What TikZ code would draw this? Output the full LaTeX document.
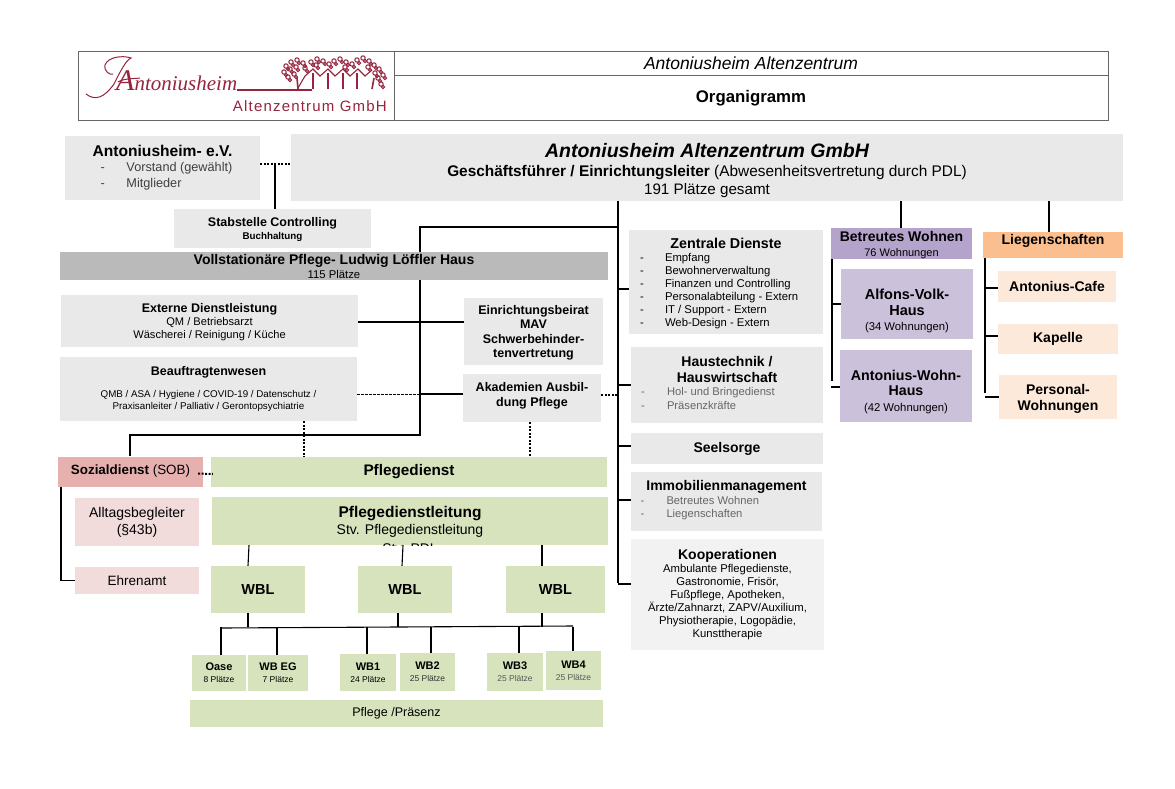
\documentclass[tikz,border=0pt]{standalone}
\usepackage{fontspec}
\setmainfont{Liberation Sans}
\newfontfamily\logoserif{Liberation Serif}
\setlength{\parindent}{0pt}
\newcommand{\fs}[2]{\fontsize{#1}{#2}\selectfont}
\newcommand{\dashitem}[3]{\hspace*{#1pt}\makebox[#2pt][l]{-}#3\par}
\definecolor{logored}{HTML}{96243F}
\definecolor{boxgrey}{HTML}{E9E9E9}
\definecolor{boxgreen}{HTML}{D6E3BC}
\definecolor{boxrose}{HTML}{F2DBDB}
\definecolor{boxred}{HTML}{E6B0AE}
\definecolor{boxpeach}{HTML}{FDE9D9}
\definecolor{boxorange}{HTML}{FBBF8F}
\definecolor{boxlila}{HTML}{CCC1DA}
\definecolor{boxviolet}{HTML}{B4A3CB}
\tikzset{
  orgbox/.style={rectangle, inner sep=0, align=center},
  wh/.style 2 args={minimum width=#1, minimum height=#2},
  pitch/.style={font=\fs{10}{#1}},
  greybox/.style={orgbox, fill=boxgrey},
  listtext/.style={orgbox, align=flush left, text width=178},
  greenbox/.style={orgbox, fill=boxgreen},
  rosebox/.style={orgbox, fill=boxrose},
  peachbox/.style={orgbox, fill=boxpeach, font=\fs{14}{15.5}\bfseries},
  lilabox/.style={orgbox, fill=boxlila},
  link/.style={black, line width=1.1pt},
  dotlink/.style={black, line width=2pt, dash pattern=on 2pt off 1.5pt},
  dashlink/.style={black, line width=.9pt, dash pattern=on 3pt off 1pt},
  frameline/.style={black!60, line width=.9pt}
}
\begin{document}
\begin{tikzpicture}[x=1pt, y=-1pt]
  \useasboundingbox (0,0) rectangle (1175,788);

  \draw [frameline] (78,51) rectangle (1108,120);
  \coordinate (headcut) at (394,75);
  \draw [frameline] (headcut |- 0,51) -- (headcut |- 0,120);
  \draw [frameline] (headcut) -- (1108,75);
  \node (headtop) at (751,63) {\fs{17.5}{19}\itshape Antoniusheim Altenzentrum};
  \node (headsub) at (751,98) {\fs{16.8}{18}\bfseries Organigramm};

  \node [logored, anchor=base west, inner sep=0] (logoword) at (116,90) {\logoserif\itshape\fs{30}{32}A\fs{21}{23}ntoniusheim};
  \node [logored, anchor=east, inner sep=0] (logosub) at (387,106) {\addfontfeatures{LetterSpace=8}\fs{15}{17}Altenzentrum GmbH};
  \draw [logored, line width=1pt] (86,94) .. controls (95,101) and (104,98) .. (114,84) .. controls (120,72) and (126,60) .. (131,58)
    .. controls (122,55) and (108,57) .. (105,65) .. controls (104,72) and (110,75) .. (113,74);
  \draw [logored, line width=1pt] (118,82) .. controls (125,78) and (132,79) .. (140,78);
  \draw [logored, line width=1.2pt] (logoword.base east) -- (312,90);
  \draw [logored, line width=1.1pt] (298,88) -- (305,76) -- (313,69) -- (320,76) -- (328,69) -- (335,76) -- (343,69) -- (350,76) -- (358,69) -- (365,76) -- (372,70);
  \foreach \x in {313,328,343,357} {
    \draw [logored, line width=1.1pt] (\x,73) -- (\x,89);
  }
  \foreach \x/\y in {286/66,291/62,297/60,303/63,284/72,290/69,296/67,288/77,294/74,305/68,
    311/62,317/59,323/61,329/64,334/61,340/59,346/62,352/64,357/60,363/58,369/61,
    374/65,379/69,383/75,378/78,381/84,375/73,368/67,316/65,345/67} {
    \draw [logored, line width=1pt] (\x,\y) circle (2.2);
    \draw [logored, line width=1pt] (\x+2,\y+3) circle (1.6);
  }
  \draw [logored, line width=1.6pt] (298,89) -- (297,78) (372,89) -- (374,78);

  \node [greybox, align=flush left, wh={195}{64}, text width=180] (verein) at (162.5,167.5) {{\centering\fs{15.6}{18}\bfseries Antoniusheim- e.V.\par}
    \fs{12.7}{15.5}\color{black!75}\dashitem{28}{26}{Vorstand (gewählt)}\dashitem{28}{26}{Mitglieder}};
  \node [greybox, wh={832}{67}] (main) at (707,167.5) {};
  \node [orgbox, pitch=17.5] (maintext) at (707,170.5) {\fs{19.5}{21}\bfseries\itshape Antoniusheim Altenzentrum GmbH\\[2pt]
    \fs{15.4}{18}\textbf{Geschäftsführer / Einrichtungsleiter} (Abwesenheitsvertretung durch PDL)\\ \fs{15.2}{17}191 Plätze gesamt};
  \node [greybox, wh={197}{39}] (stab) at (272.5,228.5) {};
  \node [orgbox, pitch=13] (stabtext) at (272.5,230) {\fs{12.5}{14}\bfseries Stabstelle Controlling\\ \fs{9.8}{11}\bfseries Buchhaltung};
  \node [orgbox, fill=black!27, wh={548}{28}, pitch=14] (voll) at (334,266) {\fs{14}{15}\bfseries Vollstationäre Pflege- Ludwig Löffler Haus\\ \fs{11.3}{11}115 Plätze};
  \node [greybox, wh={297}{52}] (extern) at (209.5,321) {};
  \node [orgbox, pitch=13] (externtext) at (209.5,322.5) {\fs{12.5}{14}\bfseries Externe Dienstleistung\\ \fs{11.1}{13}QM / Betriebsarzt\\ \fs{11.1}{13}Wäscherei / Reinigung / Küche};
  \node [greybox, wh={297}{64}, pitch=12.5] (beauf) at (208.5,389) {\fs{12.5}{14}\bfseries Beauftragtenwesen\\[9pt] \fs{9.8}{12.5}QMB / ASA / Hygiene / COVID-19 / Datenschutz /\\ \fs{9.8}{12.5}Praxisanleiter / Palliativ / Gerontopsychiatrie};
  \node [greybox, wh={139}{67}] (beirat) at (533.5,331.5) {};
  \node [orgbox, pitch=14.5] (beirattext) at (533.5,333) {\fs{12.5}{15.5}\bfseries Einrichtungsbeirat\\ \fs{12.5}{15.5}\bfseries MAV\\ \fs{12.5}{15.5}\bfseries Schwerbehinder-\\ \fs{12.5}{15.5}\bfseries tenvertretung};
  \node [greybox, wh={138}{48}] (akad) at (532,398) {};
  \node [orgbox, pitch=15] (akadtext) at (532,395.5) {\fs{12.5}{15.5}\bfseries Akademien Ausbil-\\ \fs{12.5}{15.5}\bfseries dung Pflege};

  \node [orgbox, fill=boxred, wh={145}{30}] (sozial) at (130.5,471.5) {\fs{13.4}{15}\textbf{Sozialdienst} (SOB)};
  \node [greenbox, wh={396}{30}] (pflege) at (409,472) {\fs{15.3}{17}\bfseries Pflegedienst};
  \node [rosebox, wh={124}{48}, pitch=17] (alltag) at (137,522) {\fs{14}{17}Alltagsbegleiter\\ \fs{14}{17}(§43b)};
  \node [rosebox, wh={124}{27}] (ehren) at (137,580.5) {\fs{13.5}{15}Ehrenamt};
  \node [greenbox, wh={396}{48}] (pdl) at (410,521) {};
  \begin{scope}
    \clip (pdl.south west) rectangle (pdl.north east);
    \node [orgbox, pitch=17] (pdltext) at (410,530) {\fs{15.5}{17}\bfseries Pflegedienstleitung\\ \fs{14}{17}Stv. Pflegedienstleitung\\[1.5pt] \fs{14}{17}Stv. PDL};
  \end{scope}
  \foreach \n/\x/\w in {wbla/258/94, wblb/405/94, wblc/555.5/99} {
    \node [greenbox, wh={\w}{47}] (\n) at (\x,589.5) {\fs{14.5}{16}\bfseries WBL};
  }
  \foreach \n/\t/\s/\x/\y/\w/\h/\c in {oase/Oase/8/219/673/54/36/black, wbeg/WB EG/7/278/673/60/36/black,
    wbeins/WB1/24/368/672.5/56/37/black, wbzwei/WB2/25/427.5/672/55/38/black!80,
    wbdrei/WB3/25/515/672/56/38/black!65, wbvier/WB4/25/573.5/670.5/55/39/black!65} {
    \node [greenbox, wh={\w}{\h}, pitch=12] (\n) at (\x,\y) {\fs{11}{13}\bfseries \t\\ \fs{8.5}{11}\color{\c}\s{} Plätze};
  }
  \node [greenbox, wh={413}{27}] (praesenz) at (396.5,713.5) {\fs{12.5}{14}Pflege /Präsenz};

  \node [greybox, wh={194}{104}] (zentral) at (726,282) {};
  \node [listtext] (zentraltext) at (726,283.5) {{\centering\fs{14.3}{16}\bfseries Zentrale Dienste\par}
    \fs{11.3}{12.9}\dashitem{3}{25}{Empfang}\dashitem{3}{25}{Bewohnerverwaltung}\dashitem{3}{25}{Finanzen und Controlling}\dashitem{3}{25}{Personalabteilung - Extern}\dashitem{3}{25}{IT / Support - Extern}\dashitem{3}{25}{Web-Design - Extern}};
  \node [greybox, wh={192}{76}] (haus) at (727,385) {};
  \node [listtext] (haustext) at (727,382.5) {{\centering\fs{14}{16}\bfseries Haustechnik /\\ Hauswirtschaft\par}
    \fs{11.2}{13.5}\color{black!60}\dashitem{3}{26}{Hol- und Bringedienst}\dashitem{3}{26}{Präsenzkräfte}};
  \node [greybox, wh={192}{31}] (seel) at (727,448.5) {\fs{14}{16}\bfseries Seelsorge};
  \node [greybox, wh={191}{59}] (immo) at (726.5,501.5) {};
  \node [listtext] (immotext) at (726.5,500.5) {{\centering\fs{14}{16}\bfseries Immobilienmanagement\par}
    \fs{11.2}{13.5}\color{black!60}\dashitem{3}{26}{Betreutes Wohnen}\dashitem{3}{26}{Liegenschaften}};
  \node [orgbox, fill=black!5, wh={193}{111}, pitch=13] (koop) at (727.5,594.5) {\fs{14}{16}\bfseries Kooperationen\\ \fs{11.3}{13}Ambulante Pflegedienste,\\ \fs{11.3}{13}Gastronomie, Frisör,\\ \fs{11.3}{13}Fußpflege, Apotheken,\\ \fs{11.3}{13}Ärzte/Zahnarzt, ZAPV/Auxilium,\\ \fs{11.3}{13}Physiotherapie, Logopädie,\\ \fs{11.3}{13}Kunsttherapie};

  \node [orgbox, fill=boxviolet, wh={141}{31}] (betreut) at (901.5,243.5) {};
  \node [orgbox, pitch=14.5] (betreuttext) at (901.5,245) {\fs{14}{15}\bfseries Betreutes Wohnen\\ \fs{11}{13}76 Wohnungen};
  \node [orgbox, fill=boxorange, wh={140}{26}] (liegen) at (1053,245) {};
  \node [orgbox] (liegentext) at (1053,241) {\fs{14}{15}\bfseries Liegenschaften};
  \node [lilabox, wh={132}{70}] (alfons) at (907,304) {};
  \node [orgbox, pitch=15.5] (alfonstext) at (907,311) {\fs{14.5}{16.5}\bfseries Alfons-Volk-\\ \fs{14.5}{16.5}\bfseries Haus\\ \fs{11.3}{15}(34 Wohnungen)};
  \node [lilabox, wh={132}{72}] (awohn) at (906,386) {};
  \node [orgbox, pitch=15.5] (awohntext) at (906,392) {\fs{14.2}{16.5}\bfseries Antonius-Wohn-\\ \fs{14.2}{16.5}\bfseries Haus\\ \fs{11.3}{15}(42 Wohnungen)};
  \node [peachbox, wh={118}{31}] (cafe) at (1057,286.5) {Antonius-Cafe};
  \node [peachbox, wh={120}{30}] (kapelle) at (1058,339) {Kapelle};
  \node [peachbox, wh={118}{44}] (personal) at (1058,397) {};
  \node [orgbox, pitch=15.5, font=\fs{14}{15.5}\bfseries] (personaltext) at (1058,399) {Personal-\\ Wohnungen};

  \coordinate (trunk) at (618,583);
  \coordinate (branch) at (420,227);
  \coordinate (sozbus) at (130,435);
  \coordinate (busleft) at (221,628);
  \coordinate (busright) at (573,626);
  \draw [dotlink] (verein.east |- 0,164) -- (main.west |- 0,164);
  \draw [link] (275,164) -- (275,0 |- stab.north);
  \draw [link] (trunk |- main.south) -- (trunk);
  \foreach \n/\y in {zentral/289, haus/385, seel/446, immo/500, koop/584} {
    \draw [link] (trunk |- 0,\y) -- (\n.west |- 0,\y);
  }
  \draw [link] (trunk |- branch) -- (branch) -- (branch |- voll.north);
  \draw [link] (branch |- voll.south) -- (branch |- sozbus) -- (sozbus) -- (sozbus |- sozial.north);
  \draw [link] (extern.east |- 0,322) -- (beirat.west |- 0,322);
  \draw [dashlink] (beauf.east |- 0,394) -- (branch |- 0,394);
  \draw [link] (branch |- 0,394) -- (akad.west |- 0,394);
  \draw [dotlink] (akad.east |- 0,395) -- (trunk |- 0,395);
  \draw [dotlink] (304,0 |- beauf.south) -- (304,0 |- pflege.north);
  \draw [dotlink] (530,0 |- akad.south) -- (530,0 |- pflege.north);
  \draw [dotlink] ([xshift=-5,yshift=-2]sozial.east) -- ([xshift=2,yshift=-2]pflege.west);
  \draw [link] (61,0 |- sozial.south) -- (61,0 |- ehren) -- (ehren.west);
  \draw [link] (249,0 |- pdl.south) -- (248,0 |- wbla.north);
  \draw [link] (403,0 |- pdl.south) -- (402,0 |- wblb.north);
  \draw [link] (542,0 |- pdl.south) -- (542,0 |- wblc.north);
  \draw [link] (busleft) -- (busright);
  \foreach \n/\x in {wbla/248, wblb/398, wblc/542} {
    \draw [link] (\x,0 |- \n.south) -- (\x,627);
  }
  \foreach \n/\x in {oase/221, wbeg/277, wbeins/367, wbzwei/431, wbdrei/519, wbvier/573} {
    \draw [link] (\x,627) -- (\x,0 |- \n.north);
  }
  \draw [link] (901,0 |- main.south) -- (901,0 |- betreut.north);
  \draw [link] (1049,0 |- main.south) -- (1049,0 |- liegen.north);
  \draw [link] (832,0 |- betreut.south) -- (832,381);
  \draw [link] (832,304) -- (alfons.west);
  \draw [link] (831,387) -- (awohn.west |- 0,387);
  \draw [link] (985,0 |- liegen.south) -- (985,393);
  \foreach \n/\y in {cafe/288, kapelle/336, personal/397} {
    \draw [link] (985,\y) -- (\n.west |- 0,\y);
  }
\end{tikzpicture}
\end{document}
